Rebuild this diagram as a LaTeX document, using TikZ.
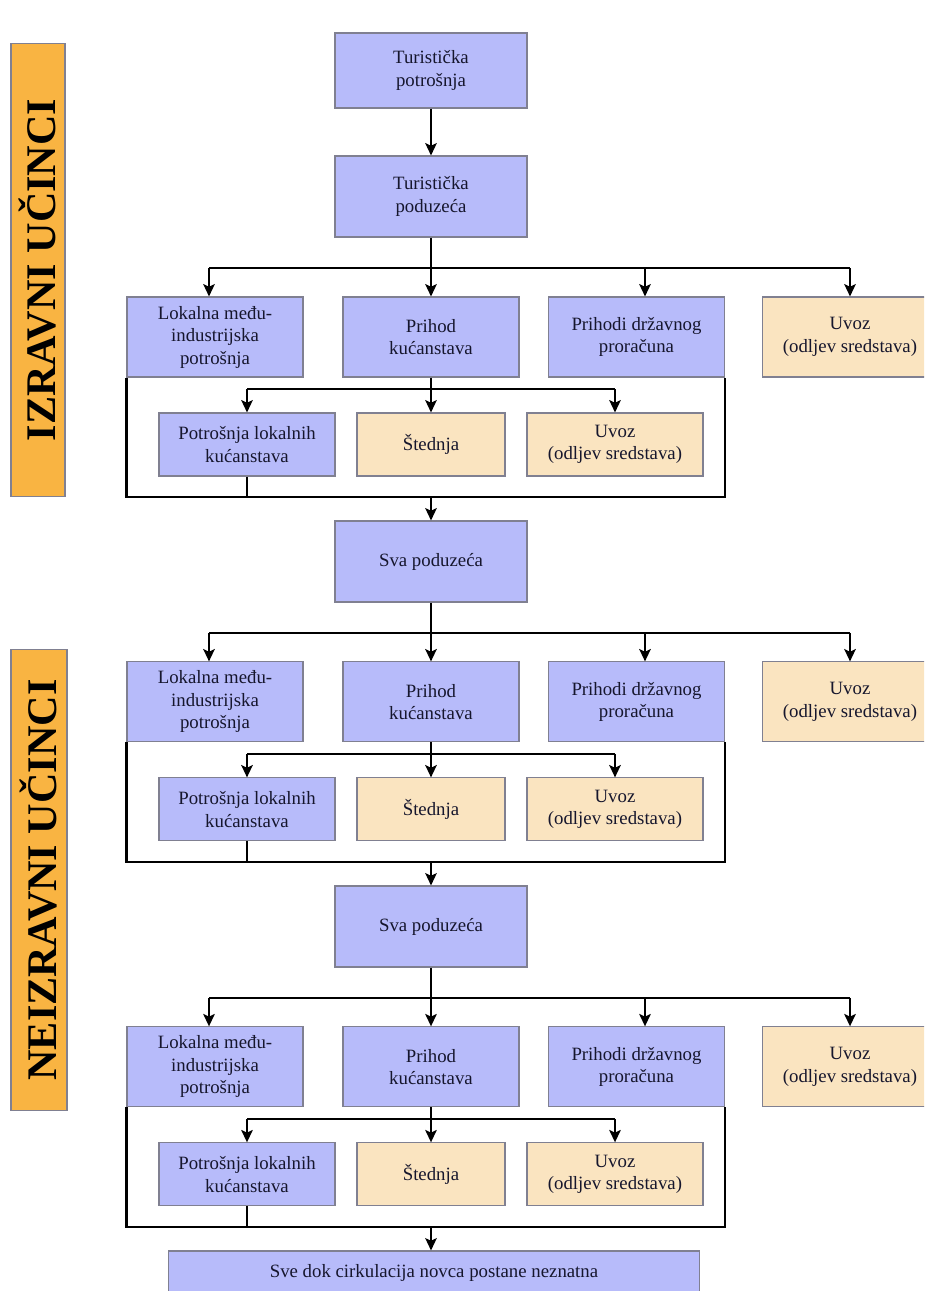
\documentclass[tikz,border=0pt]{standalone}
\usepackage{fontspec}
\setmainfont{Liberation Serif}
\usetikzlibrary{arrows.meta}
\usepackage{xcolor}

\definecolor{plava}{RGB}{183,187,250}
\definecolor{bezboja}{RGB}{250,228,192}
\definecolor{narancasta}{RGB}{249,180,66}
\definecolor{rub}{RGB}{128,128,145}
\definecolor{tekst}{RGB}{22,22,45}

\tikzset{
  kutija/.style={draw=rub, line width=0.6pt, align=center, inner sep=0pt, text=tekst,
    font=\fontsize{10.7}{12.8}\selectfont},
  plavi/.style={kutija, fill=plava},
  bezni/.style={kutija, fill=bezboja},
  traka/.style={draw=rub, line width=0.6pt, fill=narancasta, rotate=90, inner sep=0pt,
    font=\fontsize{24}{28}\selectfont\bfseries},
  veza/.style={line width=1.5pt},
  strelica/.style={veza, -{Stealth[length=7pt,width=6.5pt,inset=1.5pt]}}
}

\begin{document}
\begin{tikzpicture}[x=0.02cm, y=-0.02cm]
\clip (0,0) rectangle (924,1291);

% side labels
\node[traka, minimum width=9.08cm, minimum height=1.08cm] (izravni) at (38,270) {IZRAVNI UČINCI};
\node[traka, minimum width=9.24cm, minimum height=1.12cm] (neizravni) at (39,880) {NEIZRAVNI UČINCI};

% main chain
\node[plavi, minimum width=3.84cm, minimum height=1.5cm] (tp) at (431,70.5) {Turistička\\potrošnja};
\node[plavi, minimum width=3.84cm, minimum height=1.62cm] (tpod) at (431,196.5) {Turistička\\poduzeća};
\node[plavi, minimum width=3.84cm, minimum height=1.62cm] (sva1) at (431,561.5) {Sva poduzeća};
\node[plavi, minimum width=3.84cm, minimum height=1.62cm] (sva2) at (431,926.5) {Sva poduzeća};
\node[plavi, minimum width=10.64cm, minimum height=0.88cm] (kraj) at (434,1273) {Sve dok cirkulacija novca postane neznatna};

\draw[strelica] (tp) -- (tpod);

% one round of spending
\foreach \k/\izvor/\cilj in {0/tpod/sva1, 1/sva1/sva2, 2/sva2/kraj}{
\begin{scope}[yshift=-\k*7.3cm]
  \node[plavi, minimum width=3.52cm, minimum height=1.6cm] (lok\k) at (215,337) {Lokalna među-\\industrijska\\potrošnja};
  \node[plavi, minimum width=3.52cm, minimum height=1.6cm] (pri\k) at (431,337) {Prihod\\kućanstava};
  \node[plavi, minimum width=3.52cm, minimum height=1.6cm] (drz\k) at (636.5,337) {Prihodi državnog\\proračuna};
  \node[bezni, minimum width=3.52cm, minimum height=1.6cm] (uvz\k) at (850,337) {Uvoz\\(odljev sredstava)};

  \node[plavi, minimum width=3.52cm, minimum height=1.26cm] (pot\k) at (247,444.5) {Potrošnja lokalnih\\kućanstava};
  \node[bezni, minimum width=2.96cm, minimum height=1.26cm] (sted\k) at (431,444.5) {Štednja};
  \node[bezni, minimum width=3.52cm, minimum height=1.26cm] (uvd\k) at (615,444.5) {Uvoz\\(odljev sredstava)};

  \coordinate (bus\k) at (431,268);
  \coordinate (grana\k) at (431,389);
  \coordinate (sab\k) at (431,497);

  % split
  \draw[veza] (\izvor.south) -- (bus\k);
  \draw[veza] ([xshift=-0.12cm]lok\k.north |- bus\k) -- (uvz\k.north |- bus\k);
  \draw[strelica] ([xshift=-0.12cm]lok\k.north |- bus\k) -- ([xshift=-0.12cm]lok\k.north);
  \draw[strelica] (bus\k) -- (pri\k.north);
  \draw[strelica] ([xshift=0.17cm]drz\k.north |- bus\k) -- ([xshift=0.17cm]drz\k.north);
  \draw[strelica] (uvz\k.north |- bus\k) -- (uvz\k.north);

  % household income
  \draw[veza] (pri\k.south) -- (grana\k);
  \draw[veza] (pot\k.north |- grana\k) -- (uvd\k.north |- grana\k);
  \draw[strelica] (pot\k.north |- grana\k) -- (pot\k.north);
  \draw[strelica] (grana\k) -- (sted\k.north);
  \draw[strelica] (uvd\k.north |- grana\k) -- (uvd\k.north);

  % back to firms
  \draw[veza] (lok\k.south west) -- (lok\k.south west |- sab\k) -- (drz\k.south east |- sab\k) -- (drz\k.south east);
  \draw[veza] (pot\k.south) -- (pot\k.south |- sab\k);
  \draw[strelica] (sab\k) -- (sab\k |- \cilj.north);
\end{scope}
}

\end{tikzpicture}
\end{document}
